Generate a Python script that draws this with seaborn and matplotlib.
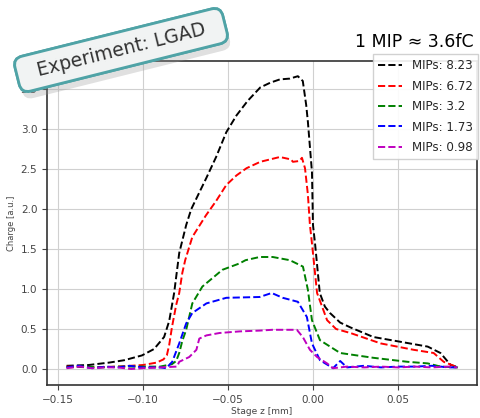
import matplotlib
matplotlib.use("Agg")
import matplotlib.pyplot as plt
import matplotlib.patheffects as pe
import seaborn as sns

# stage position z [mm] and charge [a.u.], one pair per MIP level
z_823 = [-0.145, -0.132, -0.120, -0.111, -0.1006, -0.0935, -0.0876, -0.0846, -0.0817, -0.0787,
         -0.0746, -0.0716, -0.0627, -0.057, -0.051, -0.045, -0.0385, -0.031, -0.025, -0.0195,
         -0.0136, -0.0089, -0.006, -0.004, -0.003, -0.0006, 0.0, 0.0012, 0.004, 0.007, 0.010,
         0.016, 0.022, 0.0355, 0.0515, 0.0675, 0.075, 0.081, 0.0858]
q_823 = [0.04, 0.05, 0.08, 0.11, 0.17, 0.25, 0.40, 0.60, 0.95, 1.45,
         1.80, 2.00, 2.39, 2.65, 2.96, 3.17, 3.35, 3.52, 3.58, 3.62,
         3.63, 3.66, 3.60, 3.30, 3.09, 2.46, 1.80, 1.57, 0.95, 0.78, 0.70,
         0.58, 0.52, 0.40, 0.34, 0.28, 0.20, 0.05, 0.02]

z_672 = [-0.145, -0.130, -0.115, -0.100, -0.092, -0.088, -0.086, -0.0846, -0.083, -0.0805,
         -0.0787, -0.0769, -0.0752, -0.071, -0.063, -0.057, -0.051, -0.045, -0.0391, -0.031,
         -0.0195, -0.013, -0.0118, -0.008, -0.0065, -0.0047, -0.003, -0.0018, -0.0006, 0.0024,
         0.0083, 0.0136, 0.022, 0.0398, 0.0592, 0.071, 0.0769, 0.0852]
q_672 = [0.03, 0.02, 0.03, 0.05, 0.08, 0.12, 0.17, 0.30, 0.52, 0.80,
         0.95, 1.20, 1.36, 1.65, 1.92, 2.10, 2.30, 2.42, 2.51, 2.59,
         2.65, 2.62, 2.59, 2.60, 2.64, 2.51, 2.18, 1.80, 1.57, 0.95,
         0.61, 0.50, 0.45, 0.32, 0.24, 0.20, 0.09, 0.02]

z_320 = [-0.145, -0.135, -0.125, -0.115, -0.105, -0.090, -0.083, -0.0805, -0.0787, -0.0769,
         -0.0746, -0.071, -0.0651, -0.0533, -0.0432, -0.0397, -0.0314, -0.0237, -0.0136, -0.0059,
         -0.003, -0.0006, 0.0041, 0.016, 0.0355, 0.0556, 0.0675, 0.0751, 0.0852]
q_320 = [0.02, 0.03, 0.02, 0.03, 0.03, 0.03, 0.06, 0.10, 0.20, 0.35,
         0.49, 0.82, 1.03, 1.24, 1.32, 1.36, 1.40, 1.40, 1.36, 1.28,
         0.99, 0.61, 0.36, 0.20, 0.14, 0.09, 0.07, 0.03, 0.02]

z_173 = [-0.145, -0.138, -0.130, -0.122, -0.115, -0.108, -0.100, -0.090, -0.0864, -0.0828,
         -0.0787, -0.0746, -0.071, -0.0627, -0.051, -0.0314, -0.0243, -0.0178, -0.0089, -0.0036,
         -0.0006, 0.0041, 0.0118, 0.016, 0.020, 0.030, 0.040, 0.050, 0.060, 0.070, 0.080, 0.085]
q_173 = [0.02, 0.04, 0.01, 0.03, 0.02, 0.04, 0.02, 0.02, 0.01, 0.09,
         0.32, 0.57, 0.70, 0.82, 0.89, 0.90, 0.95, 0.89, 0.84, 0.65,
         0.32, 0.11, 0.01, 0.10, 0.02, 0.04, 0.02, 0.03, 0.03, 0.04, 0.02, 0.02]

z_098 = [-0.145, -0.137, -0.130, -0.122, -0.115, -0.107, -0.100, -0.090, -0.080, -0.0787,
         -0.0728, -0.0686, -0.0669, -0.0627, -0.055, -0.0432, -0.0314, -0.024, -0.0095, -0.006,
         -0.0018, 0.0024, 0.0083, 0.0118, 0.020, 0.030, 0.040, 0.050, 0.060, 0.070, 0.080, 0.085]
q_098 = [0.01, 0.03, 0.01, 0.02, 0.02, 0.00, 0.01, 0.02, 0.03, 0.09,
         0.15, 0.24, 0.38, 0.42, 0.45, 0.47, 0.48, 0.49, 0.49, 0.40,
         0.24, 0.15, 0.07, 0.01, 0.03, 0.02, 0.03, 0.02, 0.03, 0.02, 0.03, 0.02]

labels = ["MIPs: 8.23", "MIPs: 6.72", "MIPs: 3.2", "MIPs: 1.73", "MIPs: 0.98"]
colors = ["black", "red", "green", "blue", "m"]

sns.set_style("ticks", {"axes.grid": True, "grid.color": "#d0d0d0",
                        "axes.edgecolor": "#333333"})
plt.rcParams['font.family'] = ['DejaVu Sans']

fig = plt.figure(figsize=(4.81, 4.18), dpi=100)
ax = fig.add_axes([47 / 481, 1 - 385 / 418, 430 / 481, 324 / 418])

series = [(z_823, q_823), (z_672, q_672), (z_320, q_320), (z_173, q_173), (z_098, q_098)]
for (z, q), lab, col in zip(series, labels, colors):
    sns.lineplot(x=z, y=q, ax=ax, color=col, linestyle="--", linewidth=1.4,
                 label=lab, sort=False, estimator=None)

ax.set_xlim(-0.1565, 0.0965)
ax.set_ylim(-0.2, 3.85)
ax.set_xticks([-0.15, -0.10, -0.05, 0.00, 0.05])
ax.set_yticks([0.0, 0.5, 1.0, 1.5, 2.0, 2.5, 3.0, 3.5])
ax.tick_params(labelsize=7.5, colors="#444444", length=3.5, width=0.8)
ax.set_xlabel("Stage z [mm]", fontsize=6.5, color="#444444", labelpad=2)
ax.set_ylabel("Charge [a.u.]", fontsize=6, color="#444444", labelpad=3)
for s in ax.spines.values():
    s.set_linewidth(1.2)

ax.legend(loc="upper left", bbox_to_anchor=(373 / 481, 1 - 54 / 418),
          bbox_transform=fig.transFigure, fontsize=8.6, frameon=True,
          edgecolor="#cccccc", framealpha=0.9, fancybox=False, borderaxespad=0,
          borderpad=0.45, labelspacing=0.62, handlelength=2.0, handletextpad=0.8)

fig.text(355 / 481, 1 - 42 / 418, "1 MIP \u2248 3.6fC", fontsize=12.5,
         color="black", ha="left", va="center")

tag = fig.text(121 / 481, 1 - 50 / 418, "  Experiment: LGAD  ", fontsize=13.5,
               color="#333333", rotation=14, ha="center", va="center", zorder=10,
               bbox=dict(boxstyle="round,pad=0.45,rounding_size=0.5",
                         fc="#f1f3f3", ec="#4fa3a6", lw=2))
tag.get_bbox_patch().set_path_effects(
    [pe.withSimplePatchShadow(offset=(2, -5), shadow_rgbFace="#999999", alpha=0.3),
     pe.Normal()])

plt.savefig("out.png", dpi=100)
